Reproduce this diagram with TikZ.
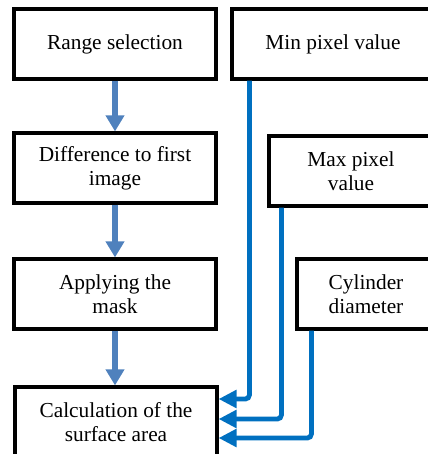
\documentclass[tikz,border=0pt]{standalone}
\usepackage{fontspec}
\setmainfont{Liberation Serif}
\usetikzlibrary{arrows.meta, calc}
\definecolor{flowblue}{RGB}{79, 129, 189}
\definecolor{paramblue}{RGB}{0, 112, 192}

\begin{document}
\begin{tikzpicture}[
    x=0.75pt, y=-0.75pt,
    stage/.style={rectangle, draw=black, line width=2.4pt, fill=white, minimum width=151.5pt, minimum height=52.5pt, align=center, font=\rmfamily\fontsize{16}{18}\selectfont, inner sep=0pt},
    param/.style={stage, minimum width=#1},
    flow/.style={-{Triangle[length=12pt, width=13.5pt]}, line width=4.6pt, color=flowblue},
    feed/.style={-{Triangle[length=13.5pt, width=13pt]}, line width=3.6pt, color=paramblue, rounded corners=3},
]
\useasboundingbox (0,0) rectangle (428,454);
\clip (0,0) rectangle (428,454);

% Processing chain
\node[stage] (range) at (115, 44) {Range selection};
\node[stage] (diff) at (115, 168) {Difference to first\\image};
\node[stage] (mask) at (115, 294) {Applying the\\mask};
\node[stage] (calc) at (116, 422) {Calculation of the\\surface area};

% Parameters
\node[param=151.5pt] (minval) at (333, 44) {Min pixel value};
\node[param=123pt] (maxval) at (351, 171) {Max pixel\\value};
\node[param=103.5pt] (diam) at (366, 294) {Cylinder\\diameter};

\draw[flow] (range) -- (diff);
\draw[flow] (diff) -- (mask);
\draw[flow] (mask) -- (mask |- calc.north);

\draw[feed] ($(minval.south west)+(19,0)$) |- ($(calc.east)+(0,-23)$);
\draw[feed] ($(maxval.south west)+(14,0)$) |- ($(calc.east)+(0,-3)$);
\draw[feed] ($(diam.south west)+(16,0)$) |- ($(calc.east)+(0,16)$);

\end{tikzpicture}
\end{document}
